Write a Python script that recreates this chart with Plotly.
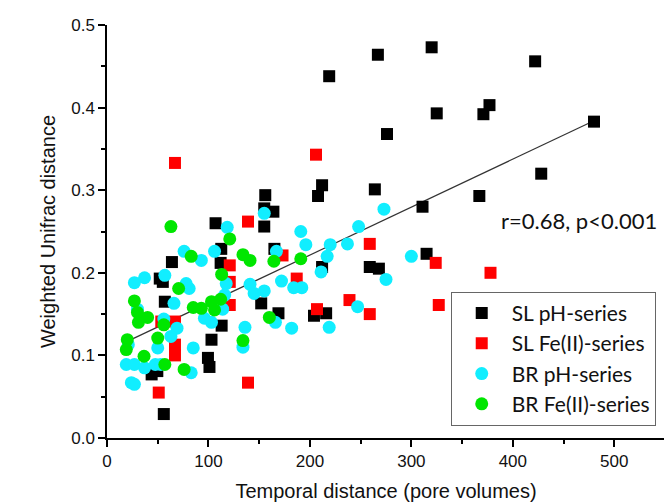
import plotly.graph_objects as go

# SL pH-series (black squares)
sl_ph_x = [267, 219, 276, 320, 422, 325, 377, 371, 480, 428, 367, 311, 212, 208, 264, 156, 155, 164, 155,
           107, 112.6, 64, 112, 165, 315, 212, 259, 268, 52, 55, 57, 152, 169, 204, 216, 113, 103, 99.5,
           101, 44, 49.6, 56]
sl_ph_y = [0.464, 0.438, 0.368, 0.473, 0.456, 0.393, 0.403, 0.392, 0.383, 0.320, 0.293, 0.280, 0.306, 0.293,
           0.301, 0.294, 0.278, 0.274, 0.256, 0.260, 0.229, 0.213, 0.212, 0.229, 0.223, 0.207, 0.207, 0.205,
           0.193, 0.189, 0.165, 0.163, 0.151, 0.148, 0.151, 0.136, 0.119, 0.097, 0.086, 0.077, 0.081, 0.029]

# SL Fe(II)-series (red squares)
sl_fe_x = [67, 206, 139, 173, 121, 121, 187, 121, 53.5, 67, 67, 67, 51, 139, 239, 207, 259, 259, 324, 327, 378]
sl_fe_y = [0.333, 0.343, 0.262, 0.221, 0.209, 0.189, 0.193, 0.161, 0.141, 0.141, 0.113, 0.100, 0.055, 0.067,
           0.167, 0.156, 0.235, 0.150, 0.212, 0.161, 0.200]

# BR pH-series (cyan circles)
br_ph_x = [155, 273, 248, 118.5, 191, 196, 220, 237, 217, 300, 167, 106, 76, 93, 275, 141, 145, 155, 172,
           184, 192, 166, 247, 136, 182, 219, 37, 27, 57, 78, 81, 117.5, 116, 66, 30, 56, 69, 63, 96, 103,
           114, 21, 19, 27, 37, 50, 47.6, 53, 24, 27, 83, 85, 134, 211]
br_ph_y = [0.272, 0.277, 0.256, 0.255, 0.250, 0.234, 0.234, 0.235, 0.220, 0.220, 0.226, 0.226, 0.226, 0.215,
           0.192, 0.186, 0.175, 0.178, 0.190, 0.182, 0.182, 0.140, 0.159, 0.134, 0.133, 0.134, 0.194, 0.188,
           0.197, 0.187, 0.181, 0.187, 0.173, 0.163, 0.156, 0.144, 0.133, 0.123, 0.145, 0.140, 0.156, 0.113,
           0.089, 0.089, 0.085, 0.109, 0.089, 0.089, 0.067, 0.065, 0.079, 0.109, 0.110, 0.201]

# BR Fe(II)-series (green circles)
br_fe_x = [63, 121, 83, 134, 141, 164.5, 191, 113, 70.6, 27, 103, 106, 112, 85, 93, 30, 40, 31, 56, 50,
           20, 19, 36.5, 57, 76, 160, 134]
br_fe_y = [0.256, 0.241, 0.220, 0.222, 0.215, 0.214, 0.217, 0.198, 0.181, 0.166, 0.165, 0.155, 0.168, 0.158,
           0.157, 0.152, 0.146, 0.140, 0.137, 0.121, 0.119, 0.107, 0.099, 0.089, 0.083, 0.146, 0.118]

# Linear fit line (endpoints)
fit_x = [20, 480]
fit_y = [0.117, 0.384]

stat_text = "r=0.68, p<0.001"

series = [
    ("SL pH-series", sl_ph_x, sl_ph_y, "square", "#000000", 12),
    ("SL Fe(II)-series", sl_fe_x, sl_fe_y, "square", "#ff0000", 12),
    ("BR pH-series", br_ph_x, br_ph_y, "circle", "#11eeff", 13),
    ("BR Fe(II)-series", br_fe_x, br_fe_y, "circle", "#00e600", 13),
]

fig = go.Figure()
fig.add_trace(go.Scatter(x=fit_x, y=fit_y, mode="lines", line=dict(color="#333333", width=1.2),
                         showlegend=False, hoverinfo="skip"))
for i, (name, xs, ys, sym, col, sz) in enumerate(series):
    fig.add_trace(go.Scatter(x=xs, y=ys, mode="markers", name=name, legendgroup=f"g{i}",
                             marker=dict(symbol=sym, color=col, size=sz, line=dict(width=0))))

axis_font = dict(family="Liberation Sans, Arial, sans-serif", size=17, color="#111111")
title_font = dict(family="Liberation Sans, Arial, sans-serif", size=20, color="#111111")
fig.update_layout(
    width=672, height=504,
    margin=dict(l=99, r=15, t=17, b=74, autoexpand=False),
    paper_bgcolor="white", plot_bgcolor="white",
    showlegend=True,
    legend=dict(x=0.616, y=0.354, xanchor="left", yanchor="top",
                bgcolor="white", bordercolor="#666666", borderwidth=1,
                font=dict(family="Lato, sans-serif", size=21, color="#111111"),
                tracegroupgap=0, itemwidth=50),
    annotations=[dict(x=465, y=0.263, xref="x", yref="y", text=stat_text, showarrow=False,
                      font=dict(family="Lato, sans-serif", size=22, color="#111111"))],
)
fig.update_xaxes(range=[0, 550], tickvals=[0, 100, 200, 300, 400, 500], showline=True, linecolor="black",
                 linewidth=1.5, ticks="outside", ticklen=7, tickwidth=1.5, tickcolor="black",
                 minor=dict(tickvals=[50, 150, 250, 350, 450, 550], ticks="outside", ticklen=4,
                            tickcolor="black", tickwidth=1.5),
                 showgrid=False, zeroline=False, tickfont=axis_font, automargin=False,
                 title=dict(text="Temporal distance (pore volumes)", font=title_font, standoff=14))
fig.update_yaxes(range=[0, 0.5], tickvals=[0, 0.1, 0.2, 0.3, 0.4, 0.5], tickformat=".1f", showline=True,
                 linecolor="black", linewidth=1.5, ticks="outside", ticklen=7, tickwidth=1.5, tickcolor="black",
                 minor=dict(tickvals=[0.05, 0.15, 0.25, 0.35, 0.45], ticks="outside", ticklen=4,
                            tickcolor="black", tickwidth=1.5),
                 showgrid=False, zeroline=False, tickfont=axis_font, automargin=False,
                 title=dict(text="Weighted Unifrac distance", font=title_font, standoff=10))

fig.write_html("out.html")
